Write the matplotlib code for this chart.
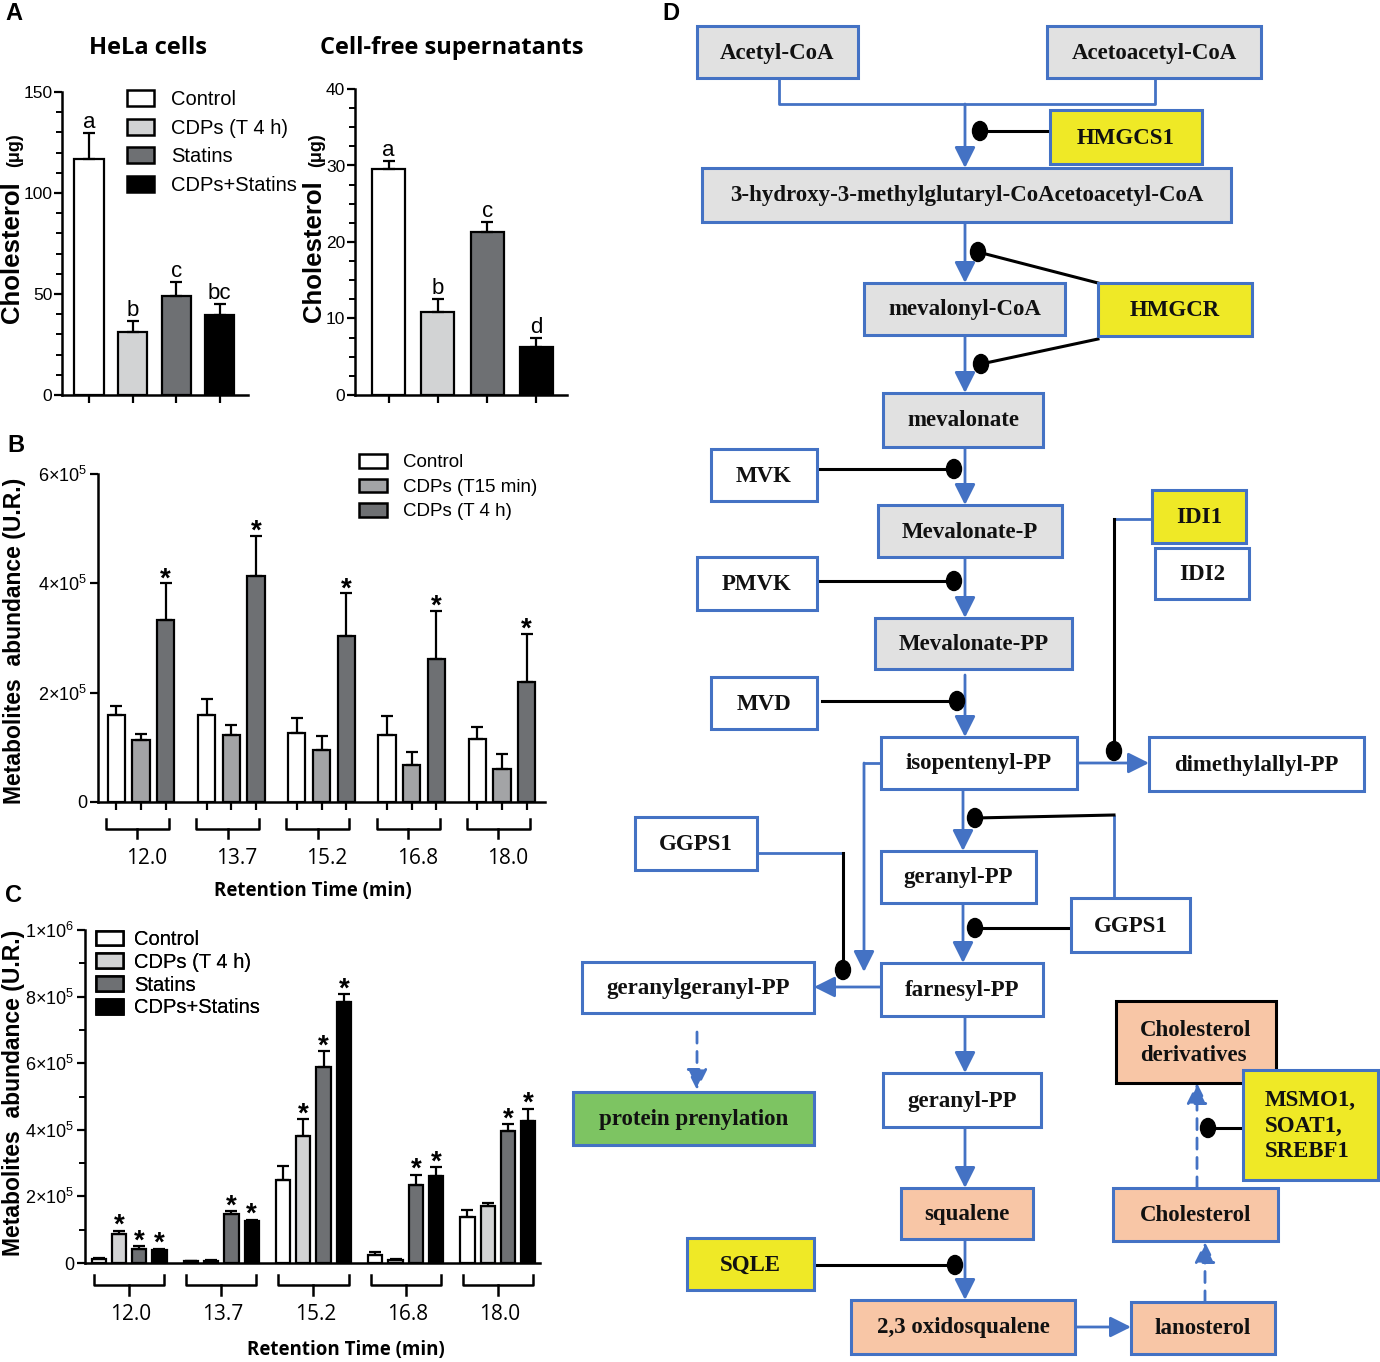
import numpy as np
import matplotlib
matplotlib.use("Agg")
import matplotlib.pyplot as plt
from matplotlib.patches import Rectangle, Ellipse, Patch
from matplotlib.ticker import MultipleLocator, FuncFormatter

W, H = 1380, 1362
plt.rcParams['font.family'] = ['Liberation Sans', 'DejaVu Sans']
plt.rcParams['mathtext.fontset'] = 'custom'
plt.rcParams['mathtext.rm'] = 'Liberation Sans'
plt.rcParams['mathtext.it'] = 'Liberation Sans:italic'
plt.rcParams['mathtext.bf'] = 'Liberation Sans:bold'

# ---------------- data: panel A ----------------
a_series = ["Control", "CDPs (T 4 h)", "Statins", "CDPs+Statins"]
a_colors = ["white", "#d2d3d4", "#6e7073", "black"]
hela_mean = [116.7, 31.3, 48.8, 39.5]
hela_err = [13.0, 5.4, 6.9, 5.5]
hela_letters = ["a", "b", "c", "bc"]
sup_mean = [29.6, 10.9, 21.3, 6.3]
sup_err = [1.05, 1.6, 1.3, 1.1]
sup_letters = ["a", "b", "c", "d"]

# ---------------- data: panel B ----------------
rt_labels = ["12.0", "13.7", "15.2", "16.8", "18.0"]
b_series = ["Control", "CDPs (T15 min)", "CDPs (T 4 h)"]
b_colors = ["white", "#a3a4a6", "#6e7073"]
b_control = [1.59e5, 1.60e5, 1.27e5, 1.22e5, 1.16e5]
b_control_err = [0.17e5, 0.28e5, 0.27e5, 0.35e5, 0.22e5]
b_t15 = [1.13e5, 1.22e5, 0.95e5, 0.67e5, 0.61e5]
b_t15_err = [0.11e5, 0.18e5, 0.25e5, 0.25e5, 0.26e5]
b_t4h = [3.33e5, 4.14e5, 3.04e5, 2.62e5, 2.20e5]
b_t4h_err = [0.67e5, 0.73e5, 0.78e5, 0.88e5, 0.88e5]
b_stars = [[0] * 5, [0] * 5, [1] * 5]

# ---------------- data: panel C ----------------
c_series = ["Control", "CDPs (T 4 h)", "Statins", "CDPs+Statins"]
c_colors = ["white", "#d2d3d4", "#6e7073", "black"]
c_control = [0.11e5, 0.05e5, 2.50e5, 0.23e5, 1.39e5]
c_control_err = [0.03e5, 0.01e5, 0.42e5, 0.09e5, 0.19e5]
c_cdps = [0.86e5, 0.07e5, 3.80e5, 0.10e5, 1.72e5]
c_cdps_err = [0.11e5, 0.01e5, 0.51e5, 0.03e5, 0.09e5]
c_statins = [0.43e5, 1.47e5, 5.88e5, 2.35e5, 3.96e5]
c_statins_err = [0.07e5, 0.08e5, 0.48e5, 0.29e5, 0.20e5]
c_combo = [0.38e5, 1.27e5, 7.85e5, 2.60e5, 4.26e5]
c_combo_err = [0.04e5, 0.03e5, 0.22e5, 0.27e5, 0.37e5]
c_stars = [[0, 0, 0, 0, 0], [1, 0, 1, 0, 0], [1, 1, 1, 1, 1], [1, 1, 1, 1, 1]]

# ---------------- data: panel D (pathway) ----------------
BLUE = "#4472c4"
GREY = "#e1e1e1"
YEL = "#efe926"
SAL = "#f8c6a6"
GRN = "#7dc462"
# label, x0, y0, x1, y1, fill, edge
nodes = [
    ("Acetyl-CoA", 697, 26, 858, 78, GREY, BLUE),
    ("Acetoacetyl-CoA", 1047, 26, 1261, 78, GREY, BLUE),
    ("HMGCS1", 1050, 110, 1202, 164, YEL, BLUE),
    ("3-hydroxy-3-methylglutaryl-CoAcetoacetyl-CoA", 702, 168, 1231, 222, GREY, BLUE),
    ("mevalonyl-CoA", 864, 283, 1065, 335, GREY, BLUE),
    ("HMGCR", 1098, 283, 1252, 336, YEL, BLUE),
    ("mevalonate", 883, 393, 1043, 447, GREY, BLUE),
    ("MVK", 711, 449, 817, 501, "white", BLUE),
    ("Mevalonate-P", 878, 505, 1062, 557, GREY, BLUE),
    ("IDI1", 1152, 490, 1246, 543, YEL, BLUE),
    ("IDI2", 1155, 548, 1249, 599, "white", BLUE),
    ("PMVK", 697, 557, 817, 610, "white", BLUE),
    ("Mevalonate-PP", 875, 618, 1072, 669, GREY, BLUE),
    ("MVD", 711, 677, 817, 729, "white", BLUE),
    ("isopentenyl-PP", 881, 737, 1077, 789, "white", BLUE),
    ("dimethylallyl-PP", 1149, 737, 1364, 791, "white", BLUE),
    ("GGPS1", 635, 817, 757, 870, "white", BLUE),
    ("geranyl-PP", 881, 851, 1036, 903, "white", BLUE),
    ("GGPS1", 1071, 898, 1190, 952, "white", BLUE),
    ("geranylgeranyl-PP", 582, 962, 814, 1013, "white", BLUE),
    ("farnesyl-PP", 881, 963, 1043, 1016, "white", BLUE),
    ("Cholesterol\nderivatives", 1116, 1001, 1276, 1083, SAL, "black"),
    ("geranyl-PP", 883, 1073, 1041, 1127, "white", BLUE),
    ("protein prenylation", 573, 1092, 814, 1145, GRN, BLUE),
    ("MSMO1,\nSOAT1,\nSREBF1", 1243, 1070, 1378, 1180, YEL, BLUE),
    ("squalene", 901, 1188, 1033, 1239, SAL, BLUE),
    ("Cholesterol", 1113, 1188, 1278, 1241, SAL, BLUE),
    ("SQLE", 687, 1238, 814, 1290, YEL, BLUE),
    ("2,3 oxidosqualene", 851, 1300, 1075, 1354, SAL, BLUE),
    ("lanosterol", 1131, 1302, 1275, 1354, SAL, BLUE),
]
# (x0, y0, x1, y1, dashed)
arrows = [
    (965, 104, 965, 168, False), (965, 222, 965, 283, False),
    (965, 335, 965, 393, False), (965, 447, 965, 505, False),
    (965, 557, 965, 618, False), (965, 675, 965, 737, False),
    (1077, 763, 1149, 763, False), (864, 763, 864, 972, False),
    (963, 789, 963, 851, False), (963, 903, 963, 963, False),
    (881, 987, 814, 987, False), (697, 1032, 697, 1090, True),
    (965, 1016, 965, 1073, False), (965, 1127, 965, 1188, False),
    (965, 1239, 965, 1300, False), (1075, 1327, 1131, 1327, False),
    (1205, 1302, 1205, 1242, True), (1197, 1188, 1197, 1083, True),
]
blue_lines = [
    [(779, 78), (779, 104), (1155, 104), (1155, 78)],
    [(1152, 519), (1114, 519)],
    [(881, 763), (864, 763)],
    [(1114, 898), (1114, 815)],
    [(757, 853), (843, 853)],
]
# black inhibitor lines ending in a dot: (x0, y0, x1, y1)
inhibit = [
    (1050, 131, 980, 131), (1098, 283, 978, 252), (1098, 339, 981, 364),
    (817, 469, 954, 469), (817, 581, 954, 581), (822, 701, 957, 701),
    (1114, 519, 1114, 751), (1114, 815, 975, 818), (1071, 928, 975, 928),
    (843, 853, 843, 970), (814, 1265, 955, 1265), (1243, 1128, 1208, 1128),
]

fig = plt.figure(figsize=(W / 100, H / 100), dpi=100)
ov = fig.add_axes([0, 0, 1, 1])
ov.set_xlim(0, W)
ov.set_ylim(H, 0)
ov.axis('off')


def px_axes(x0, y0, x1, y1):
    ax = fig.add_axes([x0 / W, 1 - y1 / H, (x1 - x0) / W, (y1 - y0) / H])
    ax.set_facecolor('none')
    for s in ('top', 'right'):
        ax.spines[s].set_visible(False)
    for s in ('left', 'bottom'):
        ax.spines[s].set_linewidth(1.8)
    ax.tick_params(axis='both', which='major', direction='out', width=1.6, length=6)
    ax.tick_params(axis='y', which='minor', direction='out', width=1.4, length=4)
    return ax


def px(ax, n):
    # n pixels in data units along y
    y0, y1 = ax.get_ylim()
    hpx = ax.get_position().height * H
    return n * (y1 - y0) / hpx


def draw_bars(ax, x, vals, errs, color, width):
    ax.bar(x, vals, width, color=color, edgecolor='black', linewidth=1.6, zorder=3)
    ax.errorbar(x, vals, yerr=[np.zeros(len(vals)), errs], fmt='none', ecolor='black',
                elinewidth=1.6, capsize=4, capthick=1.6, zorder=4)


def sci_fmt(v, _):
    if v == 0:
        return "0"
    e = int(np.floor(np.log10(v) + 1e-9))
    m = v / 10 ** e
    return r"$%d{\times}10^{%d}$" % (round(m), e)


def brackets(ax, centers, half, top, mid, bot, labels, lab_y, lab_dx):
    for gx, lab in zip(centers, labels):
        ax.plot([gx - half, gx - half, gx + half, gx + half],
                [-px(ax, top), -px(ax, mid), -px(ax, mid), -px(ax, top)],
                color='black', lw=1.8, clip_on=False, solid_joinstyle='round')
        ax.plot([gx, gx], [-px(ax, mid), -px(ax, bot)], color='black', lw=1.8, clip_on=False)
        ax.text(gx + lab_dx, -px(ax, lab_y), lab, ha='center', va='center', fontsize=15,
                family='Open Sans', clip_on=False)


def add_legend(handles, anchor, **kw):
    leg = ov.legend(handles=handles, loc='upper left', bbox_to_anchor=anchor,
                    bbox_transform=ov.transData, frameon=False, borderpad=0,
                    borderaxespad=0, **kw)
    ov.add_artist(leg)


# ---------------- panel A ----------------
def panel_a(rect, ylim, major, minor, means, errs, letters, xlim):
    ax = px_axes(*rect)
    x = np.arange(len(means))
    ax.set_xlim(*xlim)
    ax.set_ylim(*ylim)
    for i in range(len(means)):
        draw_bars(ax, [x[i]], [means[i]], [errs[i]], a_colors[i], 0.67)
        ax.text(x[i], means[i] + errs[i] + px(ax, 0), letters[i], ha='center', va='bottom',
                fontsize=16)
    ax.set_xticks(x)
    ax.set_xticklabels([])
    ax.yaxis.set_major_locator(MultipleLocator(major))
    ax.yaxis.set_minor_locator(MultipleLocator(minor))
    ax.tick_params(axis='y', labelsize=12.5, pad=1)
    return ax


panel_a((62, 92, 248, 395), (0, 150), 50, 10, hela_mean, hela_err, hela_letters, (-0.62, 3.65))
panel_a((355, 89, 567, 395), (0, 40), 10, 2.5, sup_mean, sup_err, sup_letters, (-0.68, 3.62))

leg_a = [Patch(facecolor=c, edgecolor='black', linewidth=1.8, label=l) for c, l in zip(a_colors, a_series)]
add_legend(leg_a, (127, 90), fontsize=14.5, handlelength=1.35, handleheight=0.85,
           handletextpad=0.85, labelspacing=0.48)

# ---------------- panel B ----------------
axb = px_axes(98, 474, 545, 802)
gx = np.arange(len(rt_labels))
axb.set_xlim(-0.476, 4.476)
axb.set_ylim(0, 6e5)
b_vals = [b_control, b_t15, b_t4h]
b_errs = [b_control_err, b_t15_err, b_t4h_err]
b_off = [-0.274, 0, 0.274]
for k in range(3):
    xs = gx + b_off[k]
    draw_bars(axb, xs, b_vals[k], b_errs[k], b_colors[k], 0.19)
    for i in range(len(gx)):
        if b_stars[k][i]:
            axb.text(xs[i], b_vals[k][i] + b_errs[k][i] + px(axb, 13 - 16), "*", ha='center',
                     va='baseline', fontsize=20, fontweight='bold')
axb.set_xticks(np.concatenate([gx + o for o in b_off]))
axb.set_xticklabels([])
axb.set_yticks([0, 2e5, 4e5, 6e5])
axb.yaxis.set_major_formatter(FuncFormatter(sci_fmt))
axb.tick_params(axis='y', labelsize=13, pad=2)
brackets(axb, gx - 0.04, 0.35, 17, 27, 36, rt_labels, 56, 0.1)

leg_b = [Patch(facecolor=c, edgecolor='black', linewidth=1.8, label=l) for c, l in zip(b_colors, b_series)]
add_legend(leg_b, (359, 454), fontsize=13.5, handlelength=1.5, handleheight=0.75,
           handletextpad=0.85, labelspacing=0.38)

# ---------------- panel C ----------------
axc = px_axes(85, 930, 540, 1263)
axc.set_xlim(-0.478, 4.457)
axc.set_ylim(0, 1e6)
c_vals = [c_control, c_cdps, c_statins, c_combo]
c_errs = [c_control_err, c_cdps_err, c_statins_err, c_combo_err]
c_off = [-0.33, -0.11, 0.11, 0.33]
for k in range(4):
    xs = gx + c_off[k]
    draw_bars(axc, xs, c_vals[k], c_errs[k], c_colors[k], 0.155)
    for i in range(len(gx)):
        if c_stars[k][i]:
            axc.text(xs[i], c_vals[k][i] + c_errs[k][i] + px(axc, 14 - 16), "*", ha='center',
                     va='baseline', fontsize=20, fontweight='bold')
axc.set_xticks([])
axc.set_yticks([0, 2e5, 4e5, 6e5, 8e5, 1e6])
axc.yaxis.set_minor_locator(MultipleLocator(1e5))
axc.yaxis.set_major_formatter(FuncFormatter(sci_fmt))
axc.tick_params(axis='y', labelsize=13, pad=2)
brackets(axc, gx, 0.38, 12, 22, 32, rt_labels, 51, 0.02)

leg_c = [Patch(facecolor=c, edgecolor='black', linewidth=1.8, label=l) for c, l in zip(c_colors, c_series)]
add_legend(leg_c, (96, 930), fontsize=14.5, handlelength=1.35, handleheight=0.75,
           handletextpad=0.55, labelspacing=0.19)

# ---------------- labels / titles ----------------
for t, x, y in [("A", 14, 14), ("B", 16, 446), ("C", 13, 896), ("D", 671, 14)]:
    ov.text(x, y, t, ha='center', va='center', fontsize=17, fontweight='bold')
ov.text(148, 48, "HeLa cells", ha='center', va='center', fontsize=17, fontweight='bold', family='Open Sans')
ov.text(452, 48, "Cell-free supernatants", ha='center', va='center', fontsize=17, fontweight='bold',
        family='Open Sans')
for x, yc, ym in [(12, 252, 150), (314, 251, 150)]:
    ov.text(x, yc, "Cholesterol", rotation=90, ha='center', va='center', fontsize=18.5, fontweight='bold')
    ov.text(x + 3, ym, "(μg)", rotation=90, ha='center', va='center', fontsize=13, fontweight='bold')
ov.text(15, 641, "Metabolites  abundance (U.R.)", rotation=90, ha='center', va='center',
        fontsize=16.5, fontweight='bold')
ov.text(14, 1093, "Metabolites  abundance (U.R.)", rotation=90, ha='center', va='center',
        fontsize=16.5, fontweight='bold')
ov.text(313, 891, "Retention Time (min)", ha='center', va='center', fontsize=13.5, fontweight='bold',
        family='Open Sans')
ov.text(346, 1350, "Retention Time (min)", ha='center', va='center', fontsize=13.5, fontweight='bold',
        family='Open Sans')

# ---------------- panel D ----------------
for pts in blue_lines:
    xs, ys = zip(*pts)
    ov.plot(xs, ys, color=BLUE, lw=2, solid_capstyle='butt', zorder=2)
for x0, y0, x1, y1 in inhibit:
    ov.plot([x0, x1], [y0, y1], color='black', lw=2.2, zorder=3)
    ov.add_patch(Ellipse((x1, y1), 15, 19, color='black', zorder=4))
for x0, y0, x1, y1, dashed in arrows:
    ov.annotate("", xy=(x1, y1), xytext=(x0, y0),
                arrowprops=dict(arrowstyle='-|>,head_length=0.9,head_width=0.45', color=BLUE, lw=2,
                                shrinkA=0, shrinkB=0, mutation_scale=14,
                                linestyle=(0, (4, 3)) if dashed else '-'), zorder=2)
for label, x0, y0, x1, y1, fill, edge in nodes:
    ov.add_patch(Rectangle((x0, y0), x1 - x0, y1 - y0, facecolor=fill, edgecolor=edge, lw=2.2, zorder=5))
    ov.text((x0 + x1) / 2, (y0 + y1) / 2 + 1, label, ha='center', va='center', ma='left',
            fontsize=16.5, fontweight='bold', family='Liberation Serif', color='#111111', zorder=6,
            linespacing=1.3)

fig.savefig("out.png", dpi=100)
